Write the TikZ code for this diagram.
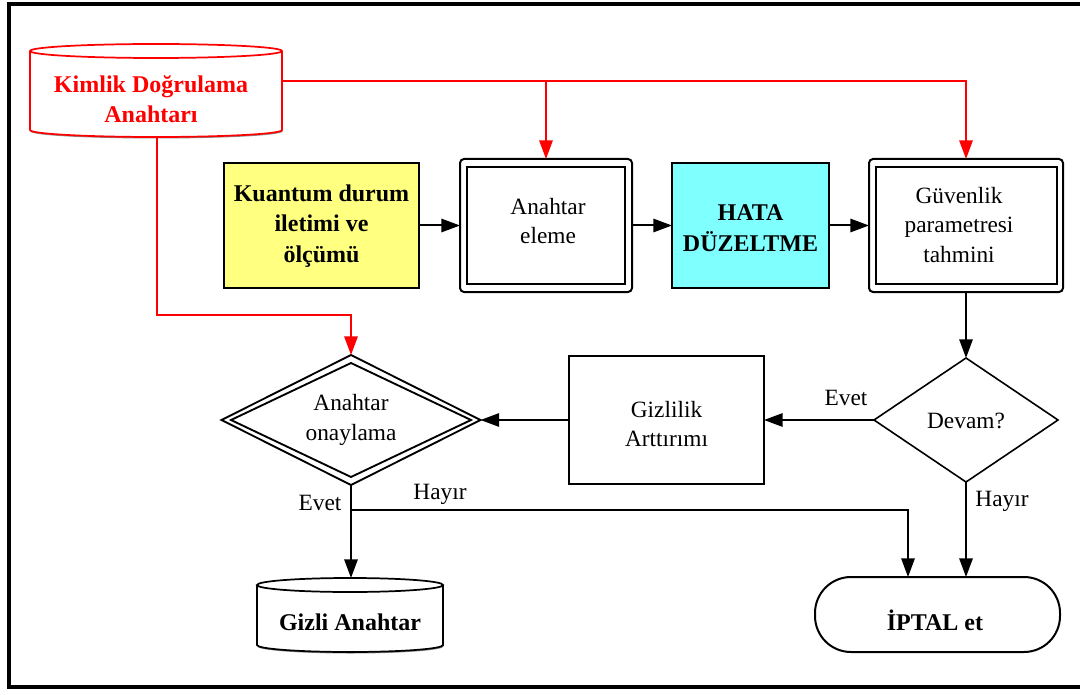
\documentclass[tikz,border=0pt]{standalone}
\usepackage{fontspec}
\setmainfont{Liberation Serif}
\usetikzlibrary{arrows.meta,shapes.geometric}

\definecolor{boxyellow}{RGB}{255,255,128}
\definecolor{boxcyan}{RGB}{128,255,255}

% cylinder outline: #1 x-left, #2 x-right, #3 top-ellipse y, #4 bottom-arc y, #5 colour
\newcommand{\cylbody}[5]{%
  \pgfmathsetmacro{\cylr}{(#2-#1)/2*0.75}%
  \pgfmathsetmacro{\cylc}{(#1+#2)/2}%
  \fill[black!45] (#1+0.5,#3+1.5) -- (#1+0.5,#4+1.5) arc[start angle=180,end angle=360,x radius=\cylr pt,y radius=5.25pt] -- (#2+0.5,#3+1.5) -- cycle;
  \filldraw[fill=white,draw=#5,line width=1.3pt] (#1,#3) -- (#1,#4) arc[start angle=180,end angle=360,x radius=\cylr pt,y radius=5.25pt] -- (#2,#3);
  \filldraw[fill=white,draw=#5,line width=1.3pt] (\cylc,#3) ellipse[x radius=\cylr pt,y radius=5.25pt];
}

\begin{document}
\begin{tikzpicture}[x=0.75pt,y=-0.75pt,
  sz/.style 2 args={minimum width=#1*0.75pt,minimum height=#2*0.75pt},
  conn/.style={line width=1.5pt,-{Triangle[length=14pt,width=10pt]}},
  keyline/.style={conn,red},
  ghost/.style={draw=none,inner sep=0pt,outer sep=0pt},
  boxline/.style={draw,line width=1.5pt,inner sep=0pt,outer sep=0pt},
  txt/.style={font=\fontsize{17.5}{22}\selectfont,align=center,inner sep=0pt},
  btxt/.style={font=\fontsize{18}{23}\selectfont\bfseries,align=center,inner sep=0pt},
  rtxt/.style={btxt,text=red}
]
\clip (0,0) rectangle (1080,695);
\fill[white] (0,0) rectangle (1080,695);

% outer frame
\draw[line width=2.3pt] (9,4) rectangle (1100,687);

% key cylinders
\cylbody{30}{282}{51}{130}{red}
\node[ghost,sz={252}{93}] (kimlik) at (156,90.5) {};
\node[rtxt] (kimliktext) at (151,99) {Kimlik Doğrulama\\Anahtarı};

\cylbody{257}{443}{585}{645}{black}
\node[ghost,sz={186}{74}] (gizli) at (350,615) {};
\node[btxt] (gizlitext) at (350,622) {Gizli Anahtar};

% process boxes
\node[boxline,fill=boxyellow,sz={195}{124}] (kuantum) at (321.5,225.5) {};
\node[btxt] (kuantumtext) at (321.5,226) {Kuantum durum\\iletimi ve\\ölçümü};

\node[boxline,rounded corners=3pt,sz={172}{133}] (elemeout) at (546,225.5) {};
\node[boxline,sz={158}{116}] (elemein) at (546,225.5) {};
\node[txt] (elemetext) at (548,221) {Anahtar\\eleme};

\node[boxline,fill=boxcyan,sz={157}{124}] (hata) at (750.5,225.5) {};
\node[btxt] (hatatext) at (750.5,228) {HATA\\DÜZELTME};

\node[boxline,rounded corners=3pt,sz={194}{133}] (guvout) at (966,225.5) {};
\node[boxline,sz={181}{116}] (guvin) at (966,225.5) {};
\node[txt] (guvtext) at (959,225) {Güvenlik\\parametresi\\tahmini};

\node[boxline,sz={195}{128}] (gizlilik) at (666.5,420) {};
\node[txt] (gizliliktext) at (666.5,424) {Gizlilik\\Arttırımı};

% decisions
\node[draw,diamond,line width=1.2pt,inner sep=0pt,outer sep=0pt,sz={184}{124}] (devam) at (966,420) {};
\node[txt] (devamtext) at (966,421) {Devam?};

\node[draw,diamond,line width=1.4pt,inner sep=0pt,outer sep=0pt,sz={259}{130}] (onayout) at (351,420) {};
\node[draw,diamond,line width=1.4pt,inner sep=0pt,outer sep=0pt,sz={240}{114}] (onayin) at (351,420) {};
\node[txt] (onaytext) at (351,420) {Anahtar\\onaylama};

% terminator
\node[boxline,rounded corners=27pt,sz={245}{75}] (iptal) at (937.5,614.5) {};
\node[btxt] (iptaltext) at (935,620) {İPTAL et};

% helper rows/columns for the routed connectors
\coordinate (redrow) at (0,81);
\coordinate (redbend) at (0,315);
\coordinate (hayirrow) at (0,510);
\coordinate (leftdrop) at (908,0);

% key distribution (red)
\draw[keyline] (kimlik.east |- redrow) -| (guvout.north);
\draw[keyline] (elemeout.north |- redrow) -- (elemeout.north);
\draw[keyline] ([xshift=1]kimlik.south) -- ([xshift=1]kimlik.south |- redbend) -| (onayout.north);

% main flow
\draw[conn] (kuantum.east) -- (elemeout.west);
\draw[conn] (elemeout.east) -- (hata.west);
\draw[conn] (hata.east) -- (guvout.west);
\draw[conn] (guvout.south) -- (devam.north);
\draw[conn] (devam.west) -- (gizlilik.east);
\draw[conn] (gizlilik.west) -- (onayout.east);
\draw[conn] (onayout.south) -- (onayout.south |- gizli.north);
\draw[conn] (onayout.south |- hayirrow) -| (iptal.north -| leftdrop);
\draw[conn] (devam.south) -- (devam.south |- iptal.north);

% branch labels
\node[txt] (evet1) at (846,398) {Evet};
\node[txt] (hayir1) at (1002,501) {Hayır};
\node[txt] (evet2) at (320,503) {Evet};
\node[txt] (hayir2) at (440,494) {Hayır};
\end{tikzpicture}
\end{document}
